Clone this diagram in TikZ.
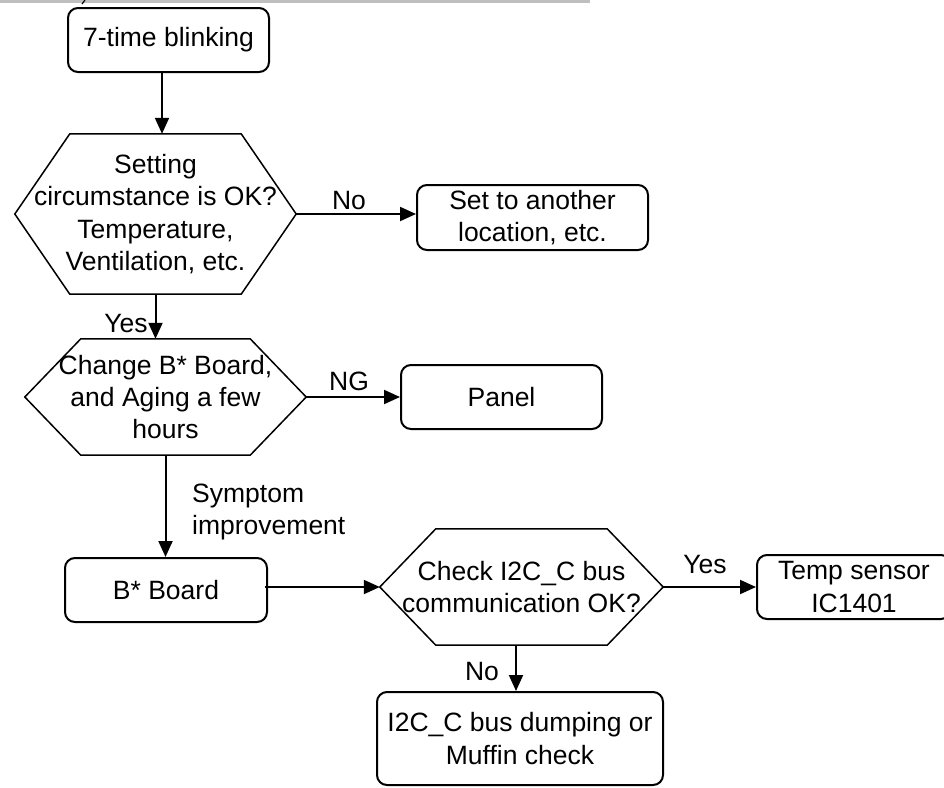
\documentclass[tikz,border=0pt]{standalone}
\usepackage{fontspec}
\setmainfont{Liberation Sans}
\usetikzlibrary{arrows.meta,calc}
\definecolor{bargray}{HTML}{BFBFBF}
\newcommand{\hexoutline}[2]{%
  \draw[hexline] (#1.west) -- ([xshift=#2]#1.north west) -- ([xshift=-#2]#1.north east)
    -- (#1.east) -- ([xshift=-#2]#1.south east) -- ([xshift=#2]#1.south west) -- cycle;}
\begin{document}
\begin{tikzpicture}[x=1pt,y=-1pt,
  font=\fontsize{26.5}{32.3}\selectfont,
  procbox/.style={draw, line width=2pt, rounded corners=10pt, inner sep=0pt, align=center},
  hexnode/.style={inner sep=0pt, align=center},
  hexline/.style={line width=1.5pt, line join=miter},
  arr/.style={line width=2pt, -{Triangle[length=16pt,width=14pt]}},
  lbl/.style={inner sep=0pt}]
\useasboundingbox (0,0) rectangle (944,787);
% top gray rule and fragment
\fill[bargray] (0,0) rectangle (590,3);
\draw[line width=1.2pt] (85,0) -- (82,4);

% nodes
\node[procbox, minimum width=201pt, minimum height=64pt] (b1) at (168.5,40) {7-time blinking};
\node[hexnode, minimum width=281pt, minimum height=160pt] (d1) at (155.5,214)
  {Setting\\circumstance is OK?\\Temperature,\\Ventilation, etc.};
\hexoutline{d1}{55}
\node[procbox, minimum width=231pt, minimum height=65pt] (s1) at (532.5,217.5) {Set to another\\location, etc.};
\node[hexnode, minimum width=281pt, minimum height=116pt] (d2) at (165.5,397)
  {Change B* Board,\\and Aging a few\\hours};
\hexoutline{d2}{56}
\node[procbox, minimum width=201pt, minimum height=64pt] (p1) at (501.5,397) {Panel};
\node[procbox, minimum width=202pt, minimum height=64pt] (b2) at (166,590) {B* Board};
\node[hexnode, minimum width=283pt, minimum height=116pt] (d3) at (521.5,587)
  {Check I2C\_C bus\\communication OK?};
\hexoutline{d3}{56}
\node[procbox, minimum width=194pt, minimum height=64pt] (t1) at (854,587) {Temp sensor\\IC1401};
\node[procbox, minimum width=286pt, minimum height=93pt] (m1) at (520,738.5) {I2C\_C bus dumping or\\Muffin check};

% labels
\node[lbl] (lno1) at (349,201) {No};
\node[lbl] (lyes1) at (126,324) {Yes};
\node[lbl] (lng) at (349,381) {NG};
\node[lbl, align=left, anchor=west] (lsym) at (192,512) {Symptom\\improvement};
\node[lbl] (lyes2) at (705,565) {Yes};
\node[lbl] (lno2) at (482,672) {No};

% connectors
\draw[arr] ([xshift=-6.5pt]b1.south) -- ([xshift=-6.5pt]b1.south |- d1.north);
\draw[arr] (d1.east) -- (d1.east -| s1.west);
\draw[arr] (d1.south) -- (d1.south |- d2.north);
\draw[arr] (d2.east) -- (p1.west);
\draw[arr] (d2.south) -- (d2.south |- b2.north);
\draw[arr] ([xshift=-3pt]b2.east |- d3.west) -- (d3.west);
\draw[arr] (d3.east) -- (t1.west);
\draw[arr] ([xshift=-5.5pt]d3.south) -- ([xshift=-5.5pt]d3.south |- m1.north);
\end{tikzpicture}
\end{document}
